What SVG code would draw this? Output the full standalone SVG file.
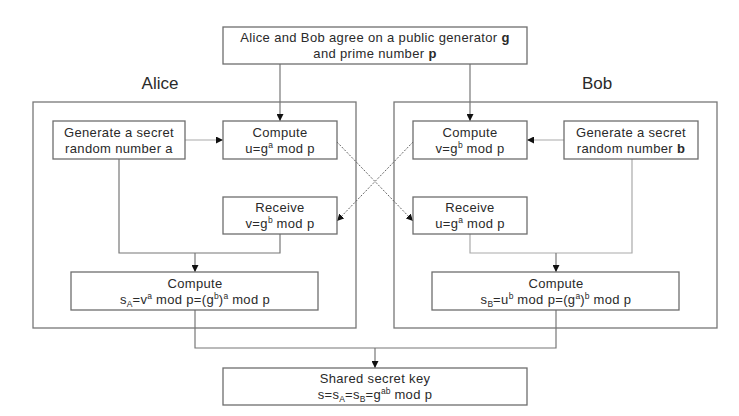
<svg xmlns="http://www.w3.org/2000/svg" width="739" height="416" viewBox="0 0 739 416">
<defs>
<style>
.box{fill:#fff;stroke:#6e6e6e;stroke-width:1.3}
.grp{fill:none;stroke:#777;stroke-width:1.3}
.ln{fill:none;stroke:#777;stroke-width:1.2}
.lt{fill:none;stroke:#aaa;stroke-width:1.2}
.dash{fill:none;stroke:#555;stroke-width:0.9;stroke-dasharray:2,1.5}
text{font-family:"Liberation Sans",Arial,sans-serif;font-size:13px;fill:#2a2a2a;text-anchor:middle;letter-spacing:0.35px}
.lbl{font-size:17px;letter-spacing:0}
.sup{font-size:8.5px;letter-spacing:0}
.b{font-weight:bold}
</style>
<marker id="ah" viewBox="0 0 10 10" refX="10" refY="5" markerWidth="7" markerHeight="7" orient="auto" markerUnits="userSpaceOnUse">
<path d="M0,0 L10,5 L0,10 z" fill="#111"/>
</marker>
</defs>
<rect width="739" height="416" fill="#fff"/>

<g id="alice-group">
<rect class="grp" x="33" y="102" width="323" height="226"/>
<text class="lbl" x="160" y="89">Alice</text>
</g>
<g id="bob-group">
<rect class="grp" x="394" y="102" width="323" height="226"/>
<text class="lbl" x="597" y="89">Bob</text>
</g>

<g id="connectors">
<line class="ln" x1="280" y1="64" x2="280" y2="121" marker-end="url(#ah)"/>
<line class="ln" x1="470" y1="64" x2="470" y2="121" marker-end="url(#ah)"/>
<line class="lt" x1="185" y1="140" x2="223" y2="140" marker-end="url(#ah)"/>
<line class="lt" x1="564" y1="140" x2="527" y2="140" marker-end="url(#ah)"/>
<line class="dash" x1="337" y1="142" x2="413" y2="221" marker-end="url(#ah)"/>
<line class="dash" x1="413" y1="142" x2="337" y2="221" marker-end="url(#ah)"/>
<polyline class="ln" points="119,159 119,253 280,253 280,234"/>
<line class="ln" x1="195" y1="253" x2="195" y2="272" marker-end="url(#ah)"/>
<polyline class="lt" points="632,159 632,253 470,253 470,234"/>
<line class="ln" x1="556" y1="253" x2="556" y2="272" marker-end="url(#ah)"/>
<polyline class="ln" points="195,310 195,348 556,348 556,310"/>
<line class="ln" x1="375" y1="348" x2="375" y2="368" marker-end="url(#ah)"/>
</g>

<g id="agree">
<rect class="box" x="223" y="27" width="304" height="37"/>
<text x="375" y="42">Alice and Bob agree on a public generator <tspan class="b">g</tspan></text>
<text x="375" y="58">and prime number <tspan class="b">p</tspan></text>
</g>

<g id="alice-gen">
<rect class="box" x="53" y="121" width="132" height="38"/>
<text x="119" y="137">Generate a secret</text>
<text x="119" y="153">random number a</text>
</g>
<g id="alice-compute">
<rect class="box" x="223" y="121" width="114" height="38"/>
<text x="280" y="137">Compute</text>
<text x="280" y="153">u=g<tspan class="sup" dy="-5">a</tspan><tspan dy="5"> mod p</tspan></text>
</g>
<g id="alice-receive">
<rect class="box" x="223" y="197" width="114" height="37"/>
<text x="280" y="212">Receive</text>
<text x="280" y="228">v=g<tspan class="sup" dy="-5">b</tspan><tspan dy="5"> mod p</tspan></text>
</g>
<g id="alice-final">
<rect class="box" x="71" y="272" width="247" height="38"/>
<text x="195" y="288">Compute</text>
<text x="195" y="304">s<tspan class="sup" dy="3">A</tspan><tspan dy="-3">=v</tspan><tspan class="sup" dy="-5">a</tspan><tspan dy="5"> mod p=(g</tspan><tspan class="sup" dy="-5">b</tspan><tspan dy="5">)</tspan><tspan class="sup" dy="-5">a</tspan><tspan dy="5"> mod p</tspan></text>
</g>

<g id="bob-compute">
<rect class="box" x="413" y="121" width="114" height="38"/>
<text x="470" y="137">Compute</text>
<text x="470" y="153">v=g<tspan class="sup" dy="-5">b</tspan><tspan dy="5"> mod p</tspan></text>
</g>
<g id="bob-gen">
<rect class="box" x="564" y="121" width="134" height="38"/>
<text x="631" y="137">Generate a secret</text>
<text x="631" y="153">random number <tspan class="b">b</tspan></text>
</g>
<g id="bob-receive">
<rect class="box" x="413" y="197" width="114" height="37"/>
<text x="470" y="212">Receive</text>
<text x="470" y="228">u=g<tspan class="sup" dy="-5">a</tspan><tspan dy="5"> mod p</tspan></text>
</g>
<g id="bob-final">
<rect class="box" x="432" y="272" width="247" height="38"/>
<text x="556" y="288">Compute</text>
<text x="556" y="304">s<tspan class="sup" dy="3">B</tspan><tspan dy="-3">=u</tspan><tspan class="sup" dy="-5">b</tspan><tspan dy="5"> mod p=(g</tspan><tspan class="sup" dy="-5">a</tspan><tspan dy="5">)</tspan><tspan class="sup" dy="-5">b</tspan><tspan dy="5"> mod p</tspan></text>
</g>

<g id="shared">
<rect class="box" x="223" y="368" width="304" height="37"/>
<text x="375" y="383">Shared secret key</text>
<text x="375" y="399">s=s<tspan class="sup" dy="3">A</tspan><tspan dy="-3">=s</tspan><tspan class="sup" dy="3">B</tspan><tspan dy="-3">=g</tspan><tspan class="sup" dy="-5">ab</tspan><tspan dy="5"> mod p</tspan></text>
</g>
</svg>
